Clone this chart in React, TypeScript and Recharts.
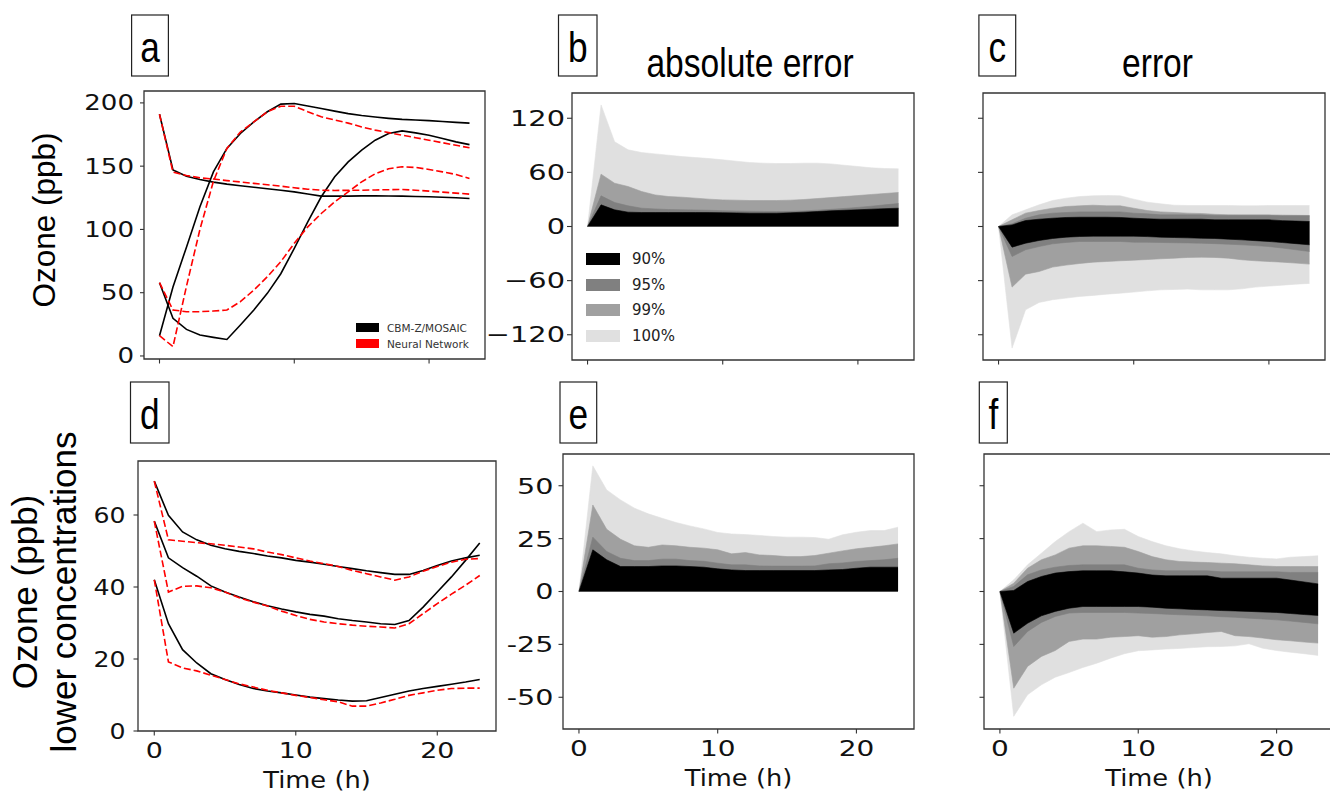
import React from 'react';
import { ComposedChart, Line, Area, XAxis, YAxis, ReferenceArea, Legend } from 'recharts';

// ---------- data ----------
const hours = [0, 1, 2, 3, 4, 5, 6, 7, 8, 9, 10, 11, 12, 13, 14, 15, 16, 17, 18, 19, 20, 21, 22, 23];

// panel a: ozone (ppb), model (CBM-Z/MOSAIC) vs neural network
const aModel1 = [191, 147, 142, 139.5, 137.4, 135.8, 134.5, 133.3, 132.2, 131, 129.7, 128, 126.3, 126.3, 126.3, 126.5, 126.6, 126.4, 126.3, 126, 125.8, 125.4, 125, 124.5];
const aNN1 = [191, 145.3, 142.6, 140.8, 139.8, 138.6, 137.5, 136.4, 135.3, 134.2, 132.9, 131.8, 131, 130.8, 130.9, 131, 131.2, 131.4, 131.6, 131, 130.3, 129.5, 128.7, 127.9];
const aModel2 = [16, 54.5, 86, 118, 145.5, 164, 175.8, 185, 193, 199, 199.5, 197.5, 195.5, 193.5, 191.5, 190, 188.8, 187.8, 187, 186.5, 186, 185.3, 184.6, 184];
const aNN2 = [16, 7.4, 55, 100, 138, 164, 177, 185, 193, 197.4, 197.4, 193, 189, 186.5, 184, 181, 178.5, 176.5, 174.5, 172.5, 170.5, 168.5, 166.5, 164.5];
const aModel3 = [57.9, 29.7, 21, 16.6, 14.7, 13, 24.5, 36.3, 49.5, 65, 85, 106, 125.8, 141.6, 153.4, 162.6, 170.5, 175.8, 177.9, 176.3, 174.5, 171.8, 169.2, 167];
const aNN3 = [58, 36.3, 35, 35, 35.5, 36.3, 42.9, 52, 62.6, 74.5, 89, 102, 112.6, 121.8, 129.7, 137.6, 144, 148, 149.5, 149, 147.4, 145.5, 143.4, 140.3];

// panel d: lower concentrations
const dModel1 = [69.4, 59.9, 55.3, 53.1, 51.6, 50.6, 49.9, 49.3, 48.6, 48.1, 47.4, 46.9, 46.3, 45.7, 45.1, 44.5, 44, 43.5, 43.5, 44.6, 46, 47.2, 48.1, 48.8];
const dNN1 = [69.4, 53.1, 52.7, 52.3, 52, 51.6, 51.1, 50.6, 49.7, 49, 48.1, 47.2, 46.5, 45.7, 44.6, 43.7, 42.8, 41.9, 42.8, 44.4, 45.7, 46.9, 47.7, 47.9];
const dModel2 = [58.3, 48.1, 45.4, 43, 40.3, 38.6, 37.2, 35.9, 34.8, 33.9, 33.1, 32.4, 31.9, 31.2, 30.7, 30.3, 29.8, 29.6, 30.7, 34.4, 38.6, 42.8, 47.4, 52.2];
const dNN2 = [58.3, 38.6, 40.2, 40.3, 39.8, 38.6, 37, 35.8, 34.7, 33.3, 32.1, 31, 30.3, 29.8, 29.4, 29.1, 28.9, 28.6, 29.8, 32.6, 35.4, 38, 40.5, 43.2];
const dModel3 = [42, 29.8, 22.6, 18.9, 15.9, 14.3, 12.9, 11.8, 11.1, 10.6, 10, 9.4, 9, 8.6, 8.3, 8.4, 9.3, 10.2, 11.1, 11.8, 12.4, 13, 13.6, 14.3];
const dNN3 = [42, 19.2, 17.5, 16.7, 15.5, 14.3, 13.1, 12.2, 11.3, 10.6, 9.9, 9.3, 8.7, 8.1, 6.9, 6.9, 7.8, 8.8, 9.9, 10.6, 11.3, 11.8, 11.9, 11.9];

// panel b: absolute error percentiles
const b100 = [0, 134.8, 94, 85, 82, 80.5, 79, 77.5, 76.4, 75.3, 73.9, 72.4, 70.9, 70.2, 69.8, 69.8, 70.2, 70.2, 69.4, 67.9, 66.5, 65, 64.3, 63.9];
const b99 = [0, 58, 48, 44.3, 38.8, 35, 33.2, 32.5, 31.4, 30.3, 29.5, 29.2, 28.8, 28.8, 28.8, 29.2, 29.9, 31, 32.1, 33.2, 34.3, 35.5, 36.6, 37.7];
const b95 = [0, 34, 26.6, 22.9, 20.3, 19.5, 18.8, 18.5, 18.3, 18, 17.5, 17.2, 16.9, 16.7, 16.6, 16.8, 17.3, 18.1, 19, 20, 21.2, 22.5, 24, 25.5];
const b90 = [0, 24, 18.5, 15.9, 15.5, 15.5, 15.5, 15.5, 15.5, 15.4, 15.3, 15.1, 14.8, 14.8, 14.8, 15.2, 15.9, 16.6, 17.4, 18, 18.5, 19.2, 19.8, 20.3];

// panel c: error bands (low / high)
const c100hi = [0, 12.9, 18.5, 24, 28.8, 31.4, 33.2, 34, 34.3, 34, 30.3, 27, 25.1, 23.6, 23.3, 23.3, 23.3, 23.3, 22.9, 22.9, 23.3, 23.3, 23.3, 23.3];
const c100lo = [0, -134.8, -92.3, -84.2, -81.2, -79.4, -77.5, -76.4, -75, -73.9, -72.7, -71.3, -70.2, -69.8, -69.4, -70.2, -70.2, -70.2, -69.1, -67.2, -66.1, -65, -63.9, -63.1];
const c99hi = [0, 7.4, 14.8, 17.7, 20.3, 22.2, 22.9, 23.6, 22.9, 22.9, 20.3, 17.7, 16.2, 15.5, 14.8, 14.4, 13.5, 13, 12.9, 12.9, 12.9, 12.6, 12.4, 12.2];
const c99lo = [0, -67.2, -52.8, -49.9, -45, -42.8, -41, -39.5, -38.8, -38, -37.3, -36.6, -35.8, -35.1, -34.3, -34, -34.3, -35.1, -36.9, -38, -38.8, -39.5, -40.6, -41.7];
const c95hi = [0, 3, 9.2, 12.9, 14.8, 15.5, 16.2, 16.2, 16.2, 16.2, 14.8, 14, 12.9, 12.9, 12.9, 12.9, 12.2, 12.2, 12.2, 12.2, 12.2, 11.8, 11.8, 11.8];
const c95lo = [0, -33.2, -25.8, -22.2, -19.2, -17.7, -16.6, -16.6, -16.6, -16.6, -17.4, -17.5, -17.7, -18, -18.2, -18.5, -19, -19.6, -20.3, -21.2, -22.2, -23.9, -25.8, -27.7];
const c90hi = [0, 1.8, 6.6, 8.1, 9.2, 10, 10.3, 10.3, 10.3, 10, 9.2, 8.5, 8.1, 8.1, 8.1, 8.1, 7.4, 7.4, 7.4, 7.4, 7.4, 6.5, 6, 5.5];
const c90lo = [0, -22.9, -18.5, -15.5, -13.3, -11.8, -11.1, -10.7, -10.7, -10.7, -10.7, -11.2, -11.8, -12.2, -12.6, -13, -13.3, -14, -14.8, -15.7, -16.6, -17.8, -19, -20.3];

// panel e: absolute error percentiles (lower concentrations)
const e100 = [0, 59.4, 48, 43.3, 39.4, 36.7, 34.6, 32.6, 31, 29.6, 27.9, 27.2, 26.9, 26.5, 26, 25.7, 25.7, 25.5, 24.7, 26.8, 28, 28.8, 28.8, 30.4];
const e99 = [0, 40.9, 29.4, 24.7, 21.6, 20.9, 22, 21.6, 20.9, 20.5, 19.7, 17.8, 18.4, 17.3, 17, 16.5, 16.5, 17, 18.1, 19.2, 20.2, 20.9, 21.6, 22.5];
const e95 = [0, 25.7, 18.9, 15.7, 14.6, 14.6, 15.3, 15.3, 14.6, 14.3, 13.4, 12.6, 12.6, 12.1, 12, 12, 12, 12.1, 13.1, 13.5, 14.2, 14.6, 15, 15.7];
const e90 = [0, 19.7, 15, 11.8, 11.8, 11.8, 12.1, 12.1, 11.8, 11.5, 10.7, 10.2, 9.9, 9.9, 9.9, 9.9, 9.9, 9.9, 10.2, 10.4, 11, 11.5, 11.5, 11.5];

// panel f: error bands (lower concentrations)
const f100hi = [0, 5.5, 12.6, 18.1, 23.6, 28.3, 32.3, 28.3, 29.1, 29.4, 26, 23.6, 21.6, 20.2, 19.2, 18.4, 17.8, 16.9, 16.2, 15.7, 15.4, 16.2, 16.5, 16.9];
const f100lo = [0, -59, -48.8, -44.1, -40.5, -38.3, -35.9, -33.9, -31.5, -29.4, -28, -27.6, -27.2, -26.9, -26.5, -26.1, -26, -25.7, -24.7, -26.8, -27.9, -28.7, -29.4, -30.2];
const f99hi = [0, 3.9, 11, 15, 17.3, 20.5, 21.6, 21.6, 21.3, 20.9, 18.9, 16.5, 15, 14.2, 13.9, 13.7, 13.4, 13.1, 12.6, 12.1, 11.8, 11.8, 11.8, 11.8];
const f99lo = [0, -45.7, -35.4, -30.7, -27.9, -23.6, -22.5, -22.5, -21.6, -21.3, -20.9, -21.6, -21.3, -20.5, -20, -19.4, -18.9, -20.9, -21.3, -22, -22.8, -23.3, -23.9, -24.4];
const f95hi = [0, 2.4, 7.9, 10.2, 11.5, 12.3, 12.6, 12.6, 12.6, 12.6, 11, 10.2, 9.8, 9.8, 9.8, 9.8, 9.3, 9.3, 9.3, 9.3, 9.3, 9, 9, 9];
const f95lo = [0, -26, -18.9, -14.6, -11.8, -10.2, -9.9, -9.9, -9.9, -9.9, -10.2, -10.4, -10.7, -11, -11.2, -11.5, -11.9, -12.2, -12.6, -13, -13.4, -14, -14.6, -15.3];
const f90hi = [0, 0.5, 4.7, 7.1, 8.7, 9.4, 9.8, 9.8, 9.8, 9.3, 8.7, 7.8, 7.4, 7.4, 7.4, 7.4, 6.3, 6.3, 6.3, 6.3, 6.3, 5.4, 4.5, 3.6];
const f90lo = [0, -19.7, -15, -11.5, -9.4, -7.9, -7.1, -7.1, -7.1, -7.1, -7.1, -7.4, -7.9, -8.2, -8.5, -8.7, -9, -9.2, -9.4, -9.7, -9.9, -10.4, -10.9, -11.3];

// ticks and labels
const xTicks = [0, 10, 20];
const aYTicks = [0, 50, 100, 150, 200];
const bYTicks = [-120, -60, 0, 60, 120];
const dYTicks = [0, 20, 40, 60];
const eYTicks = [-50, -25, 0, 25, 50];
const lineLegend = [
  { name: 'CBM-Z/MOSAIC', color: '#000000' },
  { name: 'Neural Network', color: '#ff0000' },
];
const bandLegend = [
  { name: '90%', color: '#000000' },
  { name: '95%', color: '#808080' },
  { name: '99%', color: '#a0a0a0' },
  { name: '100%', color: '#e0e0e0' },
];
const letters = ['a', 'b', 'c', 'd', 'e', 'f'];
const titles = ['absolute error', 'error'];
const xTitle = 'Time (h)';
const yTitleTop = 'Ozone (ppb)';
const yTitleBottom = ['Ozone (ppb)', 'lower concentrations'];

// ---------- rows ----------
const rowsA = hours.map((t, i) => ({ t, m1: aModel1[i], m2: aModel2[i], m3: aModel3[i], n1: aNN1[i], n2: aNN2[i], n3: aNN3[i] }));
const rowsD = hours.map((t, i) => ({ t, m1: dModel1[i], m2: dModel2[i], m3: dModel3[i], n1: dNN1[i], n2: dNN2[i], n3: dNN3[i] }));
const rowsB = hours.map((t, i) => ({ t, p100: b100[i], p99: b99[i], p95: b95[i], p90: b90[i] }));
const rowsE = hours.map((t, i) => ({ t, p100: e100[i], p99: e99[i], p95: e95[i], p90: e90[i] }));
const rowsC = hours.map((t, i) => ({ t, p100: [c100lo[i], c100hi[i]], p99: [c99lo[i], c99hi[i]], p95: [c95lo[i], c95hi[i]], p90: [c90lo[i], c90hi[i]] }));
const rowsF = hours.map((t, i) => ({ t, p100: [f100lo[i], f100hi[i]], p99: [f99lo[i], f99hi[i]], p95: [f95lo[i], f95hi[i]], p90: [f90lo[i], f90hi[i]] }));

// ---------- layout ----------
const X_DOMAIN: [number, number] = [-1.15, 24.15];
const YW = 95;
const MT = 10;
const MR = 10;
const TICK_FONT = "'DejaVu Sans', sans-serif";
const LABEL_FONT = "'Liberation Sans', Arial, sans-serif";
const SPINE = '#333333';

const minusFmt = (v: number) => (v < 0 ? '\u2212' + Math.abs(v) : String(v));
const plainFmt = (v: number) => String(v);

type TickOpt = { show: boolean; fs: number; sx: number; dy: number; anchor: 'end' | 'middle'; fmt: (v: number) => string };
const makeTick = (o: TickOpt) => (props: any) => {
  const { x, y, payload } = props;
  if (!o.show) return <g />;
  return (
    <g transform={`translate(${x},${y})`}>
      <text transform={`scale(${o.sx},1)`} x={0} y={0} dy={o.dy} textAnchor={o.anchor} fontSize={o.fs} fontFamily={TICK_FONT} fill="#111">
        {o.fmt(payload.value)}
      </text>
    </g>
  );
};

type PanelCfg = {
  left: number; top: number; w: number; h: number;
  yDomain: [number, number]; yTicks: number[];
  yShow: boolean; yFs: number; ySx: number; yTickSize: number; yTickMargin: number; yFmt: (v: number) => string;
  xShow: boolean; xFs: number; xSx: number; xH: number;
};

const cfgA: PanelCfg = { left: 144, top: 91, w: 341, h: 268, yDomain: [-2.4, 209.4], yTicks: aYTicks, yShow: true, yFs: 20.5, ySx: 1.27, yTickSize: 4, yTickMargin: 6, yFmt: plainFmt, xShow: false, xFs: 20, xSx: 1.3, xH: 30 };
const cfgB: PanelCfg = { left: 572, top: 93, w: 342, h: 267, yDomain: [-148, 148], yTicks: bYTicks, yShow: true, yFs: 21.5, ySx: 1.34, yTickSize: 5, yTickMargin: 2, yFmt: minusFmt, xShow: false, xFs: 20, xSx: 1.3, xH: 30 };
const cfgC: PanelCfg = { left: 983, top: 93, w: 342, h: 267, yDomain: [-148, 148], yTicks: bYTicks, yShow: false, yFs: 21, ySx: 1.38, yTickSize: 5, yTickMargin: 2, yFmt: minusFmt, xShow: false, xFs: 20, xSx: 1.3, xH: 30 };
const cfgD: PanelCfg = { left: 138, top: 461, w: 358, h: 270, yDomain: [0, 75], yTicks: dYTicks, yShow: true, yFs: 21, ySx: 1.2, yTickSize: 4.5, yTickMargin: 8, yFmt: plainFmt, xShow: true, xFs: 21.5, xSx: 1.25, xH: 70 };
const cfgE: PanelCfg = { left: 563, top: 454, w: 351, h: 275, yDomain: [-65, 65], yTicks: eYTicks, yShow: true, yFs: 22, ySx: 1.3, yTickSize: 4.5, yTickMargin: 5, yFmt: plainFmt, xShow: true, xFs: 21.5, xSx: 1.3, xH: 70 };
const cfgF: PanelCfg = { left: 984, top: 454, w: 350, h: 275, yDomain: [-65, 65], yTicks: eYTicks, yShow: false, yFs: 22, ySx: 1.3, yTickSize: 4.5, yTickMargin: 5, yFmt: plainFmt, xShow: true, xFs: 21.5, xSx: 1.3, xH: 70 };

const XTitle = (props: any) => {
  const vb = props.viewBox || {};
  return (
    <g transform={`translate(${vb.x + vb.width / 2},${vb.y + 57})`}>
      <text transform="scale(1.12,1)" textAnchor="middle" fontSize={23} fontFamily={TICK_FONT} fill="#111">{xTitle}</text>
    </g>
  );
};

const LineLegendContent = () => (
  <div style={{ fontFamily: TICK_FONT, fontSize: 10.5, color: '#333' }}>
    {lineLegend.map((it) => (
      <div key={it.name} style={{ display: 'flex', alignItems: 'center', height: 16, whiteSpace: 'nowrap' }}>
        <span style={{ display: 'inline-block', width: 23, height: 9, background: it.color, marginRight: 8 }} />
        {it.name}
      </div>
    ))}
  </div>
);

const BandLegendContent = () => (
  <div style={{ fontFamily: TICK_FONT, fontSize: 15, color: '#222' }}>
    {bandLegend.map((it) => (
      <div key={it.name} style={{ display: 'flex', alignItems: 'center', height: 25.7, whiteSpace: 'nowrap' }}>
        <span style={{ display: 'inline-block', width: 34, height: 12, background: it.color, marginRight: 12 }} />
        {it.name}
      </div>
    ))}
  </div>
);

function Panel({ cfg, data, series, legend }: { cfg: PanelCfg; data: any[]; series: React.ReactNode[]; legend?: React.ReactNode }) {
  const width = YW + cfg.w + MR;
  const height = MT + cfg.h + cfg.xH;
  return (
    <div style={{ position: 'absolute', left: cfg.left - YW, top: cfg.top - MT, width, height }}>
      <ComposedChart width={width} height={height} data={data} margin={{ top: MT, right: MR, bottom: 0, left: 0 }}>
        <XAxis
          type="number"
          dataKey="t"
          domain={X_DOMAIN}
          ticks={xTicks}
          interval={0}
          allowDataOverflow
          height={cfg.xH}
          axisLine={false}
          tickLine={{ stroke: SPINE, strokeWidth: 1.1 }}
          tickSize={4.5}
          tickMargin={2}
          tick={makeTick({ show: cfg.xShow, fs: cfg.xFs, sx: cfg.xSx, dy: 20.5, anchor: 'middle', fmt: plainFmt })}
          label={cfg.xShow ? <XTitle /> : undefined}
        />
        <YAxis
          type="number"
          domain={cfg.yDomain}
          ticks={cfg.yTicks}
          interval={0}
          allowDataOverflow
          width={YW}
          axisLine={false}
          tickLine={{ stroke: SPINE, strokeWidth: 1.1 }}
          tickSize={cfg.yTickSize}
          tickMargin={cfg.yTickMargin}
          tick={makeTick({ show: cfg.yShow, fs: cfg.yFs, sx: cfg.ySx, dy: cfg.yFs * 0.36, anchor: 'end', fmt: cfg.yFmt })}
        />
        {series}
        <ReferenceArea x1={X_DOMAIN[0]} x2={X_DOMAIN[1]} y1={cfg.yDomain[0]} y2={cfg.yDomain[1]} fill="none" fillOpacity={0} stroke={SPINE} strokeWidth={1.3} ifOverflow="visible" />
        {legend}
      </ComposedChart>
    </div>
  );
}

const lineSeries = (prefix: string) => [
  <Line key={prefix + 'm1'} type="linear" dataKey="m1" stroke="#000000" strokeWidth={1.6} dot={false} activeDot={false} isAnimationActive={false} />,
  <Line key={prefix + 'm2'} type="linear" dataKey="m2" stroke="#000000" strokeWidth={1.6} dot={false} activeDot={false} isAnimationActive={false} />,
  <Line key={prefix + 'm3'} type="linear" dataKey="m3" stroke="#000000" strokeWidth={1.6} dot={false} activeDot={false} isAnimationActive={false} />,
  <Line key={prefix + 'n1'} type="linear" dataKey="n1" stroke="#ff0000" strokeWidth={1.6} strokeDasharray="7 3" dot={false} activeDot={false} isAnimationActive={false} />,
  <Line key={prefix + 'n2'} type="linear" dataKey="n2" stroke="#ff0000" strokeWidth={1.6} strokeDasharray="7 3" dot={false} activeDot={false} isAnimationActive={false} />,
  <Line key={prefix + 'n3'} type="linear" dataKey="n3" stroke="#ff0000" strokeWidth={1.6} strokeDasharray="7 3" dot={false} activeDot={false} isAnimationActive={false} />,
];

const bandKeys = ['p100', 'p99', 'p95', 'p90'];
const bandColors = ['#e0e0e0', '#a0a0a0', '#808080', '#000000'];
const bandSeries = (prefix: string, fromZero: boolean) =>
  bandKeys.map((k, i) => (
    <Area
      key={prefix + k}
      type="linear"
      dataKey={k}
      baseValue={fromZero ? 0 : undefined}
      stroke={bandColors[i]}
      strokeWidth={0.6}
      fill={bandColors[i]}
      fillOpacity={1}
      dot={false}
      activeDot={false}
      isAnimationActive={false}
    />
  ));

const boxes = [
  { x: 131.6, y: 15, w: 36.8, h: 61 },
  { x: 558.5, y: 15, w: 38.5, h: 61 },
  { x: 978.9, y: 15, w: 36.8, h: 61 },
  { x: 130.5, y: 382, w: 38.5, h: 61 },
  { x: 560, y: 382, w: 36.7, h: 61 },
  { x: 979.3, y: 382, w: 28, h: 61 },
];

export default function App() {
  return (
    <div style={{ position: 'absolute', left: 0, top: 0, width: 1330, height: 795, background: '#ffffff', overflow: 'hidden' }}>
      <Panel
        cfg={cfgA}
        data={rowsA}
        series={lineSeries('a')}
        legend={<Legend layout="vertical" align="center" verticalAlign="middle" wrapperStyle={{ left: 356 - (144 - YW), top: 238.5, width: 140, height: 32 }} content={<LineLegendContent />} />}
      />
      <Panel
        cfg={cfgB}
        data={rowsB}
        series={bandSeries('b', true)}
        legend={<Legend layout="vertical" align="center" verticalAlign="middle" wrapperStyle={{ left: 586 - (572 - YW), top: 163, width: 110, height: 104 }} content={<BandLegendContent />} />}
      />
      <Panel cfg={cfgC} data={rowsC} series={bandSeries('c', false)} />
      <Panel cfg={cfgD} data={rowsD} series={lineSeries('d')} />
      <Panel cfg={cfgE} data={rowsE} series={bandSeries('e', true)} />
      <Panel cfg={cfgF} data={rowsF} series={bandSeries('f', false)} />
      <svg width={1330} height={795} style={{ position: 'absolute', left: 0, top: 0, pointerEvents: 'none' }}>
        {boxes.map((b, i) => (
          <g key={letters[i]}>
            <rect x={b.x} y={b.y} width={b.w} height={b.h} fill="none" stroke="#222" strokeWidth={1.2} />
            <g transform={`translate(${b.x + b.w / 2},${b.y + 47}) scale(0.84,1)`}>
              <text textAnchor="middle" fontSize={42} fontFamily={LABEL_FONT} fill="#000">{letters[i]}</text>
            </g>
          </g>
        ))}
        <g transform="translate(750,77) scale(0.84,1)">
          <text textAnchor="middle" fontSize={40} fontFamily={LABEL_FONT} fill="#000">{titles[0]}</text>
        </g>
        <g transform="translate(1157.5,77) scale(0.84,1)">
          <text textAnchor="middle" fontSize={40} fontFamily={LABEL_FONT} fill="#000">{titles[1]}</text>
        </g>
        <g transform="translate(55,220) rotate(-90)">
          <text textAnchor="middle" fontSize={31.5} fontFamily={LABEL_FONT} fill="#000">{yTitleTop}</text>
        </g>
        <g transform="translate(37,592) rotate(-90)">
          <text textAnchor="middle" fontSize={35} fontFamily={LABEL_FONT} fill="#000">{yTitleBottom[0]}</text>
        </g>
        <g transform="translate(76,592) rotate(-90)">
          <text textAnchor="middle" fontSize={35} fontFamily={LABEL_FONT} fill="#000">{yTitleBottom[1]}</text>
        </g>
      </svg>
    </div>
  );
}
